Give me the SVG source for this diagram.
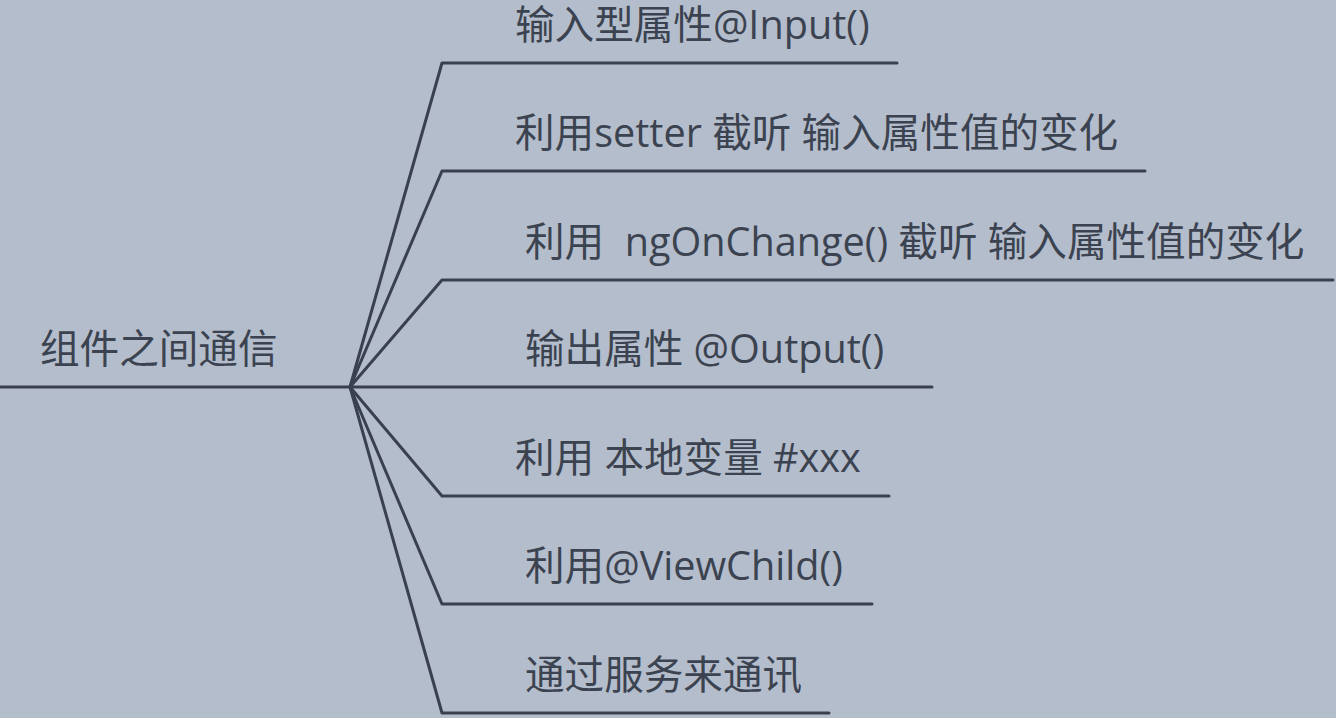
<svg xmlns="http://www.w3.org/2000/svg" width="1336" height="718" viewBox="0 0 1336 718">
<style>
.bg{fill:#b4bdcc}
.ln{fill:none;stroke:#3a414e;stroke-width:3;stroke-linecap:round;stroke-linejoin:round}
.t{font-family:"Open Sans","Noto Sans CJK SC",sans-serif;font-size:39.6px;fill:#3c4350}
</style>
<rect class="bg" x="0" y="0" width="1336" height="718"/>
<g id="connectors">
<path class="ln" d="M0 387 H350"/>
<path class="ln" d="M350 387 L442 63 H897"/>
<path class="ln" d="M350 387 L442 171 H1145"/>
<path class="ln" d="M350 387 L442 280 H1333"/>
<path class="ln" d="M350 387 H932"/>
<path class="ln" d="M350 387 L442 496 H889"/>
<path class="ln" d="M350 387 L442 604 H872"/>
<path class="ln" d="M350 387 L442 713 H829"/>
</g>
<g id="root"><text class="t" x="40" y="363">组件之间通信</text></g>
<g id="n1"><text class="t" x="515" y="39">输入型属性@Input()</text></g>
<g id="n2"><text class="t" x="515" y="147">利用setter 截听 输入属性值的变化</text></g>
<g id="n3"><text class="t" x="525" y="256" xml:space="preserve">利用  ngOnChange() 截听 输入属性值的变化</text></g>
<g id="n4"><text class="t" x="525" y="363">输出属性 @Output()</text></g>
<g id="n5"><text class="t" x="515" y="472">利用 本地变量 #xxx</text></g>
<g id="n6"><text class="t" x="525" y="580">利用@ViewChild()</text></g>
<g id="n7"><text class="t" x="525" y="689">通过服务来通讯</text></g>
</svg>
